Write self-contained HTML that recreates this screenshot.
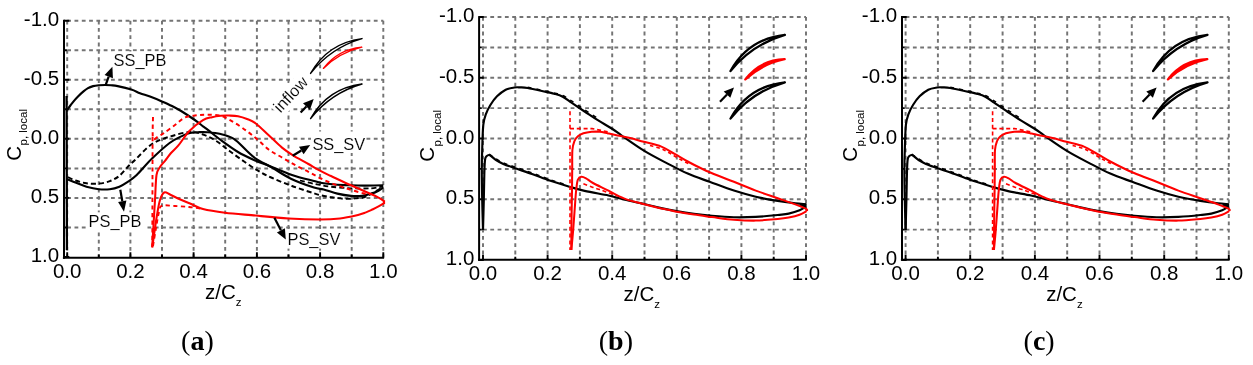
<!DOCTYPE html>
<html lang="en">
<head>
<meta charset="utf-8">
<title>Cp local distributions</title>
<style>
html,body{margin:0;padding:0;background:#fff;}
body{width:1253px;height:365px;overflow:hidden;}
svg{display:block;}
svg text{font-family:"Liberation Sans",sans-serif;fill:#000;}
</style>
</head>
<body>
<svg width="1253" height="365" viewBox="0 0 1253 365">
<rect x="0" y="0" width="1253" height="365" fill="#fff"/>
<path d="M67.2,20.7V257.0M98.8,20.7V257.0M130.4,20.7V257.0M162.0,20.7V257.0M193.6,20.7V257.0M225.2,20.7V257.0M256.9,20.7V257.0M288.5,20.7V257.0M320.1,20.7V257.0M351.7,20.7V257.0M383.3,20.7V257.0M67.2,20.7H383.3M67.2,50.2H383.3M67.2,79.8H383.3M67.2,109.3H383.3M67.2,138.8H383.3M67.2,168.4H383.3M67.2,197.9H383.3M67.2,227.5H383.3" stroke="#747474" stroke-width="1.95" stroke-dasharray="3.8 3.5" fill="none"/>
<path d="M64.0,19.8V258.8" stroke="#000" stroke-width="2.0" fill="none"/>
<path d="M62.9,257.8H384.1" stroke="#000" stroke-width="2.1" fill="none"/>
<path d="M67.2,257.8v-5.6M98.8,257.8v-3.2M130.4,257.8v-5.6M162.0,257.8v-3.2M193.6,257.8v-5.6M225.2,257.8v-3.2M256.9,257.8v-5.6M288.5,257.8v-3.2M320.1,257.8v-5.6M351.7,257.8v-3.2M383.3,257.8v-5.6M64.0,20.7h5.3M64.0,50.2h2.9M64.0,79.8h5.3M64.0,109.3h2.9M64.0,138.8h5.3M64.0,168.4h2.9M64.0,197.9h5.3M64.0,227.5h2.9M64.0,257.0h5.3" stroke="#000" stroke-width="1.9" fill="none"/>
<g fill="none" stroke-linejoin="round" stroke-linecap="butt">
<path d="M66.6,96 L66.9,250" stroke="#000" stroke-width="2.3"/>
<path d="M67.0,110.4 C67.5,109.7 68.9,107.5 70.0,106.0 C71.1,104.5 72.3,103.0 73.6,101.4 C74.9,99.8 76.3,98.2 78.0,96.5 C79.7,94.8 82.1,92.6 83.8,91.2 C85.5,89.8 86.5,89.1 88.0,88.2 C89.5,87.3 91.3,86.6 93.1,86.1 C94.9,85.6 97.0,85.4 99.0,85.2 C101.0,85.0 103.0,85.0 105.0,85.0 C107.0,85.0 108.9,85.1 111.0,85.3 C113.1,85.5 114.3,85.4 117.7,86.1 C121.1,86.8 127.6,88.3 131.3,89.5 C135.0,90.7 136.9,92.0 140.0,93.2 C143.1,94.4 146.3,95.2 150.0,96.6 C153.7,98.0 158.2,99.8 161.9,101.4 C165.6,103.0 168.8,104.4 172.0,106.0 C175.2,107.6 177.3,108.7 181.1,111.0 C184.9,113.3 191.2,117.5 194.8,120.0 C198.5,122.5 200.7,124.6 203.0,126.3 C205.3,128.0 205.6,128.1 208.5,130.4 C211.4,132.7 215.8,136.4 220.7,140.0 C225.6,143.6 232.2,148.5 238.0,152.0 C243.8,155.5 250.5,158.4 255.8,160.8 C261.1,163.2 264.0,163.8 270.0,166.2 C276.0,168.6 284.7,172.5 292.0,175.0 C299.3,177.5 308.6,179.6 313.9,181.0 C319.2,182.4 319.8,182.7 323.7,183.3 C327.6,183.9 332.8,184.4 337.4,184.7 C341.9,185.0 346.4,185.2 351.0,185.3 C355.6,185.5 359.4,185.6 364.8,185.6 C370.2,185.6 380.2,185.4 383.3,185.3" stroke="#000" stroke-width="2.15"/>
<path d="M67.3,179.2 C68.7,179.8 72.3,181.3 75.5,182.6 C78.7,183.8 82.6,185.6 86.5,186.7 C90.4,187.8 94.9,188.8 98.8,189.2 C102.7,189.6 106.4,189.6 109.8,189.2 C113.2,188.8 116.4,187.9 119.4,186.7 C122.4,185.5 124.7,183.8 127.6,181.9 C130.5,180.0 132.6,178.9 136.7,175.0 C140.8,171.1 146.5,163.9 152.0,158.6 C157.5,153.3 164.5,146.8 169.6,143.0 C174.7,139.2 179.4,137.3 182.8,135.6 C186.2,133.9 187.5,133.6 190.0,133.0 C192.5,132.4 195.1,132.3 198.0,132.2 C200.9,132.1 203.7,131.9 207.5,132.2 C211.3,132.5 216.3,132.9 220.7,134.0 C225.1,135.1 229.5,136.1 233.9,138.9 C238.3,141.7 243.3,147.7 247.0,151.0 C250.7,154.3 251.4,155.7 255.8,158.6 C260.2,161.5 267.3,164.9 273.3,168.4 C279.3,171.9 285.2,176.1 292.0,179.3 C298.8,182.5 308.6,185.9 313.9,187.6 C319.2,189.3 319.8,188.5 323.7,189.5 C327.6,190.5 332.8,192.5 337.4,193.6 C341.9,194.7 346.9,195.5 351.0,195.9 C355.1,196.3 358.6,196.3 362.0,195.9 C365.4,195.5 368.9,194.4 371.6,193.6 C374.4,192.8 376.6,191.8 378.5,190.8 C380.4,189.8 382.5,188.0 383.3,187.4" stroke="#000" stroke-width="2.15"/>
<path d="M68.0,177.1 C69.2,177.7 72.4,179.5 75.5,180.5 C78.6,181.5 82.6,182.8 86.5,183.3 C90.4,183.8 94.9,183.9 98.8,183.6 C102.7,183.2 106.4,182.5 109.8,181.2 C113.2,179.9 116.2,178.4 119.4,175.8 C122.6,173.2 126.4,168.1 129.0,165.5 C131.6,162.9 131.2,163.6 135.0,160.0 C138.8,156.4 146.2,147.9 152.0,144.0 C157.8,140.1 163.4,138.7 169.6,136.7 C175.8,134.7 183.8,132.4 189.4,132.0 C195.0,131.6 198.5,133.0 203.0,134.5 C207.5,136.0 211.9,138.2 216.3,141.0 C220.7,143.8 224.8,147.5 229.5,151.0 C234.2,154.5 240.1,158.7 244.8,162.0 C249.6,165.3 253.8,168.2 258.0,170.7 C262.2,173.2 264.3,174.4 270.0,177.0 C275.7,179.6 284.7,183.3 292.0,186.0 C299.3,188.7 309.1,191.8 313.9,193.3 C318.7,194.9 318.0,194.6 321.0,195.3 C324.0,196.0 328.0,196.7 331.9,197.3 C335.8,197.9 340.3,198.6 344.2,198.8 C348.1,199.0 351.8,198.7 355.2,198.4 C358.6,198.1 361.8,197.9 364.8,197.0 C367.8,196.1 369.9,194.6 373.0,192.9 C376.1,191.2 381.6,187.7 383.3,186.7" stroke="#000" stroke-width="1.95" stroke-dasharray="5 3"/>
<path d="M300.0,180.5 C302.5,181.1 310.0,183.0 315.0,184.0 C320.0,185.0 324.0,185.9 330.0,186.6 C336.0,187.3 344.2,188.0 351.0,188.3 C357.8,188.6 365.7,188.6 371.0,188.3 C376.3,188.0 381.0,186.6 383.0,186.3" stroke="#000" stroke-width="1.8" stroke-dasharray="5 3"/>
<path d="M152.2,247.4 C152.4,243.7 153.0,232.9 153.5,225.0 C154.0,217.1 154.5,208.3 155.0,200.0 C155.5,191.7 155.7,180.5 156.5,175.0 C157.3,169.5 158.6,169.4 160.0,167.0 C161.4,164.6 163.2,163.1 165.0,160.8 C166.8,158.5 168.8,155.6 171.0,153.0 C173.2,150.4 175.3,149.1 178.4,145.4 C181.5,141.7 185.3,135.2 189.4,131.0 C193.5,126.8 199.2,122.5 203.0,120.2 C206.8,117.9 209.1,117.9 212.0,117.2 C214.9,116.5 217.9,116.1 220.7,115.8 C223.5,115.5 226.1,115.5 229.0,115.6 C231.9,115.7 235.0,115.7 238.0,116.3 C241.0,116.9 244.0,117.8 247.0,119.0 C250.0,120.2 252.1,120.7 255.8,123.5 C259.5,126.3 264.6,131.6 269.0,135.6 C273.4,139.6 278.0,144.3 282.0,147.6 C286.0,150.9 288.6,152.6 293.0,155.3 C297.4,158.0 303.9,161.4 308.4,164.0 C312.9,166.6 316.3,168.7 320.0,170.7 C323.7,172.7 325.3,173.4 330.5,175.8 C335.7,178.2 344.1,182.2 351.0,185.3 C357.9,188.4 366.9,192.1 371.6,194.2 C376.3,196.3 376.9,196.8 379.0,197.9 C381.1,199.0 383.1,200.5 383.9,201.0" stroke="#f00" stroke-width="2.05"/>
<path d="M152.2,247.4 C152.5,245.3 153.2,240.4 154.0,235.0 C154.8,229.6 156.0,220.8 157.0,215.0 C158.0,209.2 158.8,203.8 160.0,200.0 C161.2,196.2 162.5,193.4 164.2,192.5 C165.9,191.6 167.7,193.5 170.0,194.5 C172.3,195.5 174.7,197.0 178.0,198.5 C181.3,200.0 185.8,201.8 190.0,203.5 C194.2,205.2 197.2,207.5 203.0,209.0 C208.8,210.5 216.2,211.6 225.0,212.7 C233.8,213.8 245.2,214.6 255.8,215.6 C266.4,216.6 278.0,217.8 288.7,218.4 C299.4,219.1 311.4,219.5 320.0,219.5 C328.6,219.5 333.7,219.2 340.0,218.5 C346.3,217.8 353.7,216.0 358.0,215.0 C362.3,214.0 363.5,213.3 366.0,212.4 C368.5,211.5 370.8,210.3 373.0,209.3 C375.2,208.3 377.2,207.2 379.0,206.2 C380.8,205.2 383.1,203.7 383.9,203.2" stroke="#f00" stroke-width="2.05"/>
<path d="M384,200.2V204" stroke="#f00" stroke-width="2.2"/>
<path d="M153.0,117.0 C153.0,120.5 152.2,134.7 153.0,138.0 C153.8,141.3 156.2,137.4 158.0,136.6 C159.8,135.8 161.2,134.9 164.0,133.0 C166.8,131.1 171.5,127.6 175.0,125.0 C178.5,122.4 181.5,119.0 185.2,117.4 C188.9,115.8 193.3,115.7 197.0,115.3 C200.7,114.9 203.6,114.7 207.5,114.8 C211.4,114.9 216.3,114.5 220.7,115.8 C225.1,117.1 229.5,119.8 233.9,122.4 C238.3,125.0 243.0,128.3 247.0,131.2 C251.0,134.1 254.3,136.9 258.0,140.0 C261.7,143.1 265.0,146.9 269.0,149.8 C273.0,152.7 277.6,154.9 282.0,157.5 C286.4,160.1 290.9,162.8 295.3,165.2 C299.7,167.6 304.1,169.6 308.4,171.8 C312.7,174.0 316.6,176.4 321.0,178.5 C325.4,180.6 330.1,182.7 334.7,184.4 C339.3,186.2 343.6,187.5 348.4,189.0 C353.2,190.5 359.5,192.4 363.4,193.3 C367.3,194.2 370.2,194.0 371.6,194.2" stroke="#f00" stroke-width="1.95" stroke-dasharray="4.2 3.4"/>
<path d="M152.6,137 L152.3,246" stroke="#f00" stroke-width="1.9" stroke-dasharray="4.2 3.4"/>
<path d="M153.0,246.0 C153.5,243.0 155.0,233.7 156.0,228.0 C157.0,222.3 158.0,215.7 159.0,212.0 C160.0,208.3 159.3,206.7 162.0,205.7 C164.7,204.7 170.5,205.8 175.0,206.0 C179.5,206.2 184.8,206.6 189.0,207.0 C193.2,207.4 198.2,208.2 200.0,208.5" stroke="#f00" stroke-width="1.9" stroke-dasharray="4.2 3.4"/>
</g>
<g fill="#fff">
<rect x="112.5" y="51.5" width="56" height="18.5"/>
<rect x="87.6" y="212.3" width="57.4" height="19"/>
<rect x="311" y="131.5" width="55" height="21.5"/>
<rect x="286.6" y="229.8" width="54.4" height="18.8"/>
<rect transform="translate(280.5,113.5) rotate(-47)" x="-2" y="-14.5" width="48" height="19"/>
</g>
<path d="M105.8,84.7L108.7,76.6" stroke="#000" stroke-width="2.2" fill="none"/>
<path d="M112.4,66.8L112.9,78.2L104.6,75.1Z" fill="#000"/>
<path d="M120.3,189.8L122.3,201.3" stroke="#000" stroke-width="2.2" fill="none"/>
<path d="M124.0,211.7L118.1,202.0L126.4,200.6Z" fill="#000"/>
<path d="M292.7,155.8L301.3,150.5" stroke="#000" stroke-width="2.2" fill="none"/>
<path d="M310.2,144.9L303.6,154.2L299.0,146.7Z" fill="#000"/>
<path d="M274.4,217.8L280.9,230.3" stroke="#000" stroke-width="2.2" fill="none"/>
<path d="M285.8,239.6L276.9,232.4L284.9,228.2Z" fill="#000"/>
<path d="M300.6,112.6L306.4,106.6" stroke="#000" stroke-width="2.2" fill="none"/>
<path d="M313.7,99.0L309.9,109.9L303.0,103.2Z" fill="#000"/>
<g font-size="16.4" fill="#000" stroke="#fff" stroke-width="0.12">
<text x="113.6" y="65.6">SS_PB</text>
<text x="88.6" y="227.3">PS_PB</text>
<text x="312.4" y="149.7">SS_SV</text>
<text x="287.5" y="244.8">PS_SV</text>
<text transform="translate(280.5,113.5) rotate(-47)">inflow</text>
</g>
<path d="M310.6,73.4Q327.6,43.2 362.0,38.6Q330.7,47.7 310.6,73.4Z" fill="#fff" stroke="#000" stroke-width="1.45" stroke-linejoin="round"/>
<path d="M310.6,118.6Q327.6,88.4 362.0,84.0Q330.7,93.0 310.6,118.6Z" fill="#fff" stroke="#000" stroke-width="1.45" stroke-linejoin="round"/>
<path d="M323.4,68.4Q338.0,49.5 361.8,47.2Q339.7,52.5 323.4,68.4Z" fill="#fff" stroke="#f00" stroke-width="1.35" stroke-linejoin="round"/>
<text x="67.2" y="277.8" text-anchor="middle" font-size="20.5">0.0</text>
<text x="130.4" y="277.8" text-anchor="middle" font-size="20.5">0.2</text>
<text x="193.6" y="277.8" text-anchor="middle" font-size="20.5">0.4</text>
<text x="256.9" y="277.8" text-anchor="middle" font-size="20.5">0.6</text>
<text x="320.1" y="277.8" text-anchor="middle" font-size="20.5">0.8</text>
<text x="383.3" y="277.8" text-anchor="middle" font-size="20.5">1.0</text>
<text x="59.2" y="25.8" text-anchor="end" font-size="20.5">-1.0</text>
<text x="59.2" y="84.9" text-anchor="end" font-size="20.5">-0.5</text>
<text x="59.2" y="143.9" text-anchor="end" font-size="20.5">0.0</text>
<text x="59.2" y="203.0" text-anchor="end" font-size="20.5">0.5</text>
<text x="59.2" y="262.1" text-anchor="end" font-size="20.5">1.0</text>
<text x="223.3" y="299.3" text-anchor="middle" font-size="20.5">z/C<tspan font-size="11.5" dy="6.5">z</tspan></text>
<text transform="translate(20.5,160.8) rotate(-90)" font-size="20.5">C<tspan font-size="11.5" dy="6.8" dx="0.5">p, local</tspan></text>
<path d="M483.0,17.0V260.0M515.3,17.0V260.0M547.6,17.0V260.0M579.9,17.0V260.0M612.2,17.0V260.0M644.5,17.0V260.0M676.8,17.0V260.0M709.1,17.0V260.0M741.4,17.0V260.0M773.7,17.0V260.0M806.0,17.0V260.0M483.0,17.0H806.0M483.0,47.4H806.0M483.0,77.8H806.0M483.0,108.1H806.0M483.0,138.5H806.0M483.0,168.9H806.0M483.0,199.2H806.0M483.0,229.6H806.0" stroke="#747474" stroke-width="1.95" stroke-dasharray="3.8 3.5" fill="none"/>
<path d="M479.1,16.1V260.8" stroke="#000" stroke-width="2.0" fill="none"/>
<path d="M478.0,259.8H806.8" stroke="#000" stroke-width="2.1" fill="none"/>
<path d="M483.0,259.8v-5.0M515.3,259.8v-3.0M547.6,259.8v-5.0M579.9,259.8v-3.0M612.2,259.8v-5.0M644.5,259.8v-3.0M676.8,259.8v-5.0M709.1,259.8v-3.0M741.4,259.8v-5.0M773.7,259.8v-3.0M806.0,259.8v-5.0M479.1,17.0h4.7M479.1,47.4h2.7M479.1,77.8h4.7M479.1,108.1h2.7M479.1,138.5h4.7M479.1,168.9h2.7M479.1,199.2h4.7M479.1,229.6h2.7M479.1,260.0h4.7" stroke="#000" stroke-width="1.9" fill="none"/>
<g fill="none" stroke-linejoin="round">
<path d="M483.0,230.0 C482.9,225.0 482.4,210.0 482.2,200.0 C482.0,190.0 481.8,178.3 481.8,170.0 C481.8,161.7 481.9,157.5 482.2,150.0 C482.4,142.5 482.7,130.8 483.3,124.8 C483.9,118.8 484.8,117.2 486.0,113.9 C487.2,110.6 488.6,107.9 490.4,105.0 C492.2,102.1 494.4,98.8 497.0,96.3 C499.6,93.8 502.8,91.2 505.7,89.7 C508.6,88.2 512.1,87.9 514.5,87.5 C516.9,87.1 517.8,87.3 520.0,87.4 C522.2,87.5 524.1,87.4 527.6,88.0 C531.1,88.6 536.4,89.8 540.8,90.8 C545.2,91.8 550.4,92.7 554.0,93.7 C557.6,94.7 559.8,95.2 562.7,96.7 C565.6,98.2 567.9,100.1 571.5,102.6 C575.1,105.1 580.2,108.6 584.6,111.5 C589.0,114.4 593.1,117.3 597.8,120.2 C602.4,123.1 608.5,126.4 612.5,129.0 C616.5,131.6 616.8,132.2 622.0,135.8 C627.2,139.4 636.6,146.1 643.9,150.6 C651.2,155.1 658.5,158.8 665.8,162.6 C673.1,166.4 680.4,170.4 687.7,173.6 C695.0,176.8 701.9,179.0 709.6,181.8 C717.3,184.6 726.2,188.1 733.9,190.6 C741.6,193.1 748.5,195.0 755.8,196.7 C763.1,198.4 771.1,199.8 777.7,200.9 C784.3,202.0 790.5,202.8 795.3,203.3 C800.0,203.9 804.4,204.0 806.2,204.2" stroke="#000" stroke-width="2.15"/>
<path d="M483.0,230.0 C483.1,225.0 483.6,209.2 483.8,200.0 C484.0,190.8 484.1,181.7 484.3,175.0 C484.5,168.3 484.6,163.1 485.0,160.0 C485.4,156.9 485.7,157.0 486.5,156.2 C487.3,155.4 488.2,154.6 489.8,155.2 C491.4,155.8 493.8,158.6 496.0,160.0 C498.2,161.4 500.2,162.6 503.3,163.9 C506.4,165.2 509.7,166.3 514.5,168.0 C519.3,169.7 526.1,171.9 532.0,174.0 C537.9,176.1 543.8,178.6 549.6,180.6 C555.4,182.6 561.2,184.3 567.0,186.0 C572.8,187.7 577.7,189.3 584.6,190.9 C591.5,192.5 602.0,194.1 608.5,195.5 C615.0,196.9 618.4,198.2 623.9,199.5 C629.4,200.8 635.5,202.1 641.4,203.4 C647.2,204.8 653.1,206.3 659.0,207.6 C664.9,208.9 670.7,210.1 676.5,211.1 C682.3,212.1 688.1,213.0 694.0,213.8 C699.9,214.6 705.4,215.2 712.0,215.8 C718.6,216.4 726.6,217.1 733.9,217.3 C741.2,217.5 748.5,217.3 755.8,216.9 C763.1,216.5 772.2,215.6 777.7,215.0 C783.2,214.4 785.1,214.4 788.7,213.6 C792.4,212.8 796.7,211.5 799.6,210.3 C802.5,209.1 804.9,207.1 806.0,206.5" stroke="#000" stroke-width="2.15"/>
<path d="M800,205.4 H806.6" stroke="#000" stroke-width="3.6"/>
<path d="M489.0,154.3 C490.2,155.1 493.6,157.6 496.0,159.0 C498.4,160.4 500.2,161.6 503.3,162.9 C506.4,164.2 509.7,165.3 514.5,167.0 C519.3,168.7 526.1,170.9 532.0,173.0 C537.9,175.1 543.8,177.6 549.6,179.6 C555.4,181.6 564.1,184.2 567.0,185.1" stroke="#000" stroke-width="1.7" stroke-dasharray="4 4.5"/>
<path d="M527.6,87.2 C529.8,87.7 536.4,89.0 540.8,90.0 C545.2,91.0 550.4,92.0 554.0,92.9 C557.6,93.8 559.8,94.1 562.7,95.4 C565.6,96.7 567.9,98.5 571.5,100.9 C575.1,103.3 580.2,106.8 584.6,109.7 C589.0,112.6 595.6,117.0 597.8,118.4" stroke="#000" stroke-width="1.5" stroke-dasharray="4 5"/>
<path d="M571.3,250.0 C571.3,244.2 571.5,225.0 571.6,215.0 C571.7,205.0 571.9,197.5 572.0,190.0 C572.1,182.5 572.1,176.7 572.2,170.0 C572.3,163.3 572.0,154.8 572.4,150.0 C572.8,145.2 573.6,143.3 574.5,141.0 C575.4,138.7 576.4,137.6 577.9,136.3 C579.4,135.0 581.1,134.1 583.4,133.3 C585.7,132.6 588.9,132.1 591.6,131.8 C594.3,131.6 597.1,131.5 599.8,131.8 C602.5,132.1 605.0,132.8 608.0,133.4 C611.0,134.0 613.9,134.6 617.6,135.4 C621.3,136.2 625.6,136.9 630.0,138.0 C634.4,139.1 638.7,140.4 643.9,141.8 C649.1,143.2 656.3,144.6 661.4,146.6 C666.5,148.6 670.2,151.4 674.6,153.9 C679.0,156.4 683.0,158.9 687.7,161.5 C692.4,164.1 697.9,166.8 703.0,169.2 C708.1,171.6 713.2,173.7 718.4,175.8 C723.5,177.9 727.7,179.3 733.9,181.8 C740.1,184.3 748.5,187.9 755.8,190.6 C763.1,193.3 771.1,195.9 777.7,198.2 C784.3,200.5 790.5,202.6 795.3,204.4 C800.0,206.2 804.3,207.7 806.2,208.8 C808.1,209.9 806.5,210.8 806.6,211.2" stroke="#f00" stroke-width="2.05"/>
<path d="M571.3,250.0 C571.6,247.0 572.4,239.5 573.0,232.0 C573.6,224.5 574.5,212.0 575.0,205.0 C575.5,198.0 575.7,194.2 576.2,190.0 C576.7,185.8 577.0,181.9 577.9,179.7 C578.8,177.5 579.9,176.9 581.3,176.7 C582.6,176.5 584.0,177.2 586.0,178.3 C588.0,179.4 589.2,180.9 593.0,183.0 C596.8,185.1 603.4,188.1 608.5,190.7 C613.6,193.3 618.4,196.2 623.9,198.4 C629.4,200.6 635.5,202.0 641.4,203.6 C647.2,205.2 653.1,206.6 659.0,207.9 C664.9,209.2 670.7,210.6 676.5,211.7 C682.3,212.8 688.1,213.7 694.0,214.6 C699.9,215.5 705.4,216.2 712.0,217.1 C718.6,217.9 726.6,219.1 733.9,219.7 C741.2,220.3 748.5,220.7 755.8,220.6 C763.1,220.5 772.2,219.5 777.7,219.0 C783.2,218.5 785.1,218.2 788.7,217.5 C792.4,216.8 796.6,215.8 799.6,214.7 C802.6,213.6 805.4,211.8 806.6,211.2" stroke="#f00" stroke-width="2.05"/>
<path d="M570.0,111.2 V250" stroke="#f00" stroke-width="1.6" stroke-dasharray="4 2.8"/>
<path d="M570.0,128.6 H592.0 L608.0,131.8" stroke="#f00" stroke-width="1.6" stroke-dasharray="4 2.8"/>
<path d="M583.4,183.8 C585.0,184.4 590.3,186.4 593.0,187.4 C595.7,188.4 597.2,188.7 599.8,189.6 C602.4,190.5 605.5,191.8 608.5,192.9 C611.5,194.0 616.4,195.5 618.0,196.0" stroke="#f00" stroke-width="1.6" stroke-dasharray="4 2.8"/>
<path d="M650.0,145.5 C651.9,146.1 658.1,147.5 661.4,148.8 C664.7,150.1 666.9,151.6 670.0,153.3 C673.1,155.1 676.7,157.5 680.0,159.3 C683.3,161.1 688.3,163.5 690.0,164.3" stroke="#f00" stroke-width="1.6" stroke-dasharray="3.5 3"/>
</g>
<path d="M730.5,71.1Q748.3,38.9 784.9,34.9Q752.0,44.4 730.5,71.1Z" fill="#fff" stroke="#000" stroke-width="2.3" stroke-linejoin="round"/>
<path d="M730.5,118.5Q748.3,86.3 784.9,82.3Q752.0,91.8 730.5,118.5Z" fill="#fff" stroke="#000" stroke-width="2.3" stroke-linejoin="round"/>
<path d="M745.3,79.4Q760.2,59.9 784.7,59.2Q762.2,63.8 745.3,79.4Z" fill="#f00" stroke="#f00" stroke-width="2.3" stroke-linejoin="round"/>
<path d="M720.0,101.8L727.0,94.6" stroke="#000" stroke-width="2.2" fill="none"/>
<path d="M734.0,87.4L730.3,97.8L723.7,91.4Z" fill="#000"/>
<text x="483.0" y="279.8" text-anchor="middle" font-size="20.5">0.0</text>
<text x="547.6" y="279.8" text-anchor="middle" font-size="20.5">0.2</text>
<text x="612.2" y="279.8" text-anchor="middle" font-size="20.5">0.4</text>
<text x="676.8" y="279.8" text-anchor="middle" font-size="20.5">0.6</text>
<text x="741.4" y="279.8" text-anchor="middle" font-size="20.5">0.8</text>
<text x="806.0" y="279.8" text-anchor="middle" font-size="20.5">1.0</text>
<text x="474.3" y="22.1" text-anchor="end" font-size="20.5">-1.0</text>
<text x="474.3" y="82.8" text-anchor="end" font-size="20.5">-0.5</text>
<text x="474.3" y="143.6" text-anchor="end" font-size="20.5">0.0</text>
<text x="474.3" y="204.3" text-anchor="end" font-size="20.5">0.5</text>
<text x="474.3" y="265.1" text-anchor="end" font-size="20.5">1.0</text>
<text x="641.7" y="301.3" text-anchor="middle" font-size="20.5">z/C<tspan font-size="11.5" dy="6.5">z</tspan></text>
<text transform="translate(433.8,161.8) rotate(-90)" font-size="20.5">C<tspan font-size="11.5" dy="6.8" dx="0.5">p, local</tspan></text>
<path d="M905.6,17.0V260.0M937.9,17.0V260.0M970.2,17.0V260.0M1002.6,17.0V260.0M1034.9,17.0V260.0M1067.2,17.0V260.0M1099.5,17.0V260.0M1131.8,17.0V260.0M1164.2,17.0V260.0M1196.5,17.0V260.0M1228.8,17.0V260.0M905.6,17.0H1228.8M905.6,47.4H1228.8M905.6,77.8H1228.8M905.6,108.1H1228.8M905.6,138.5H1228.8M905.6,168.9H1228.8M905.6,199.2H1228.8M905.6,229.6H1228.8" stroke="#747474" stroke-width="1.95" stroke-dasharray="3.8 3.5" fill="none"/>
<path d="M902.0,16.1V260.8" stroke="#000" stroke-width="2.0" fill="none"/>
<path d="M900.9,259.8H1229.6" stroke="#000" stroke-width="2.1" fill="none"/>
<path d="M905.6,259.8v-5.0M937.9,259.8v-3.0M970.2,259.8v-5.0M1002.6,259.8v-3.0M1034.9,259.8v-5.0M1067.2,259.8v-3.0M1099.5,259.8v-5.0M1131.8,259.8v-3.0M1164.2,259.8v-5.0M1196.5,259.8v-3.0M1228.8,259.8v-5.0M902.0,17.0h4.7M902.0,47.4h2.7M902.0,77.8h4.7M902.0,108.1h2.7M902.0,138.5h4.7M902.0,168.9h2.7M902.0,199.2h4.7M902.0,229.6h2.7M902.0,260.0h4.7" stroke="#000" stroke-width="1.9" fill="none"/>
<g fill="none" stroke-linejoin="round">
<path d="M905.6,230.0 C905.5,225.0 905.0,210.0 904.8,200.0 C904.6,190.0 904.4,178.3 904.4,170.0 C904.4,161.7 904.5,157.5 904.8,150.0 C905.0,142.5 905.3,130.8 905.9,124.8 C906.5,118.8 907.4,117.2 908.6,113.9 C909.8,110.6 911.2,107.9 913.0,105.0 C914.8,102.1 917.1,98.8 919.6,96.3 C922.1,93.8 925.4,91.2 928.3,89.7 C931.2,88.2 934.7,87.9 937.1,87.5 C939.5,87.1 940.4,87.3 942.6,87.4 C944.8,87.5 946.7,87.4 950.2,88.0 C953.7,88.6 959.0,89.8 963.4,90.8 C967.8,91.8 973.0,92.7 976.6,93.7 C980.2,94.7 982.4,95.2 985.3,96.7 C988.2,98.2 990.5,100.1 994.1,102.6 C997.8,105.1 1002.8,108.6 1007.2,111.5 C1011.6,114.4 1015.8,117.3 1020.4,120.2 C1025.0,123.1 1031.1,126.4 1035.1,129.0 C1039.1,131.6 1039.4,132.2 1044.6,135.8 C1049.8,139.4 1059.2,146.1 1066.5,150.6 C1073.8,155.1 1081.1,158.8 1088.4,162.6 C1095.7,166.4 1103.0,170.4 1110.3,173.6 C1117.6,176.8 1124.5,179.0 1132.2,181.8 C1139.9,184.6 1148.8,188.1 1156.5,190.6 C1164.2,193.1 1171.1,195.0 1178.4,196.7 C1185.7,198.4 1193.7,199.8 1200.3,200.9 C1206.9,202.0 1213.2,202.8 1217.9,203.3 C1222.7,203.9 1227.0,204.0 1228.8,204.2" stroke="#000" stroke-width="2.15"/>
<path d="M905.6,230.0 C905.7,225.0 906.2,209.2 906.4,200.0 C906.6,190.8 906.7,181.7 906.9,175.0 C907.1,168.3 907.2,163.1 907.6,160.0 C908.0,156.9 908.3,157.0 909.1,156.2 C909.9,155.4 910.8,154.6 912.4,155.2 C914.0,155.8 916.4,158.6 918.6,160.0 C920.9,161.4 922.8,162.6 925.9,163.9 C929.0,165.2 932.3,166.3 937.1,168.0 C941.9,169.7 948.8,171.9 954.6,174.0 C960.5,176.1 966.4,178.6 972.2,180.6 C978.0,182.6 983.8,184.3 989.6,186.0 C995.4,187.7 1000.3,189.3 1007.2,190.9 C1014.1,192.5 1024.5,194.1 1031.1,195.5 C1037.6,196.9 1041.0,198.2 1046.5,199.5 C1052.0,200.8 1058.2,202.1 1064.0,203.4 C1069.8,204.8 1075.8,206.3 1081.6,207.6 C1087.4,208.9 1093.3,210.1 1099.1,211.1 C1104.9,212.1 1110.7,213.0 1116.6,213.8 C1122.5,214.6 1127.9,215.2 1134.6,215.8 C1141.2,216.4 1149.2,217.1 1156.5,217.3 C1163.8,217.5 1171.1,217.3 1178.4,216.9 C1185.7,216.5 1194.8,215.6 1200.3,215.0 C1205.8,214.4 1207.7,214.4 1211.3,213.6 C1215.0,212.8 1219.3,211.5 1222.2,210.3 C1225.1,209.1 1227.5,207.1 1228.6,206.5" stroke="#000" stroke-width="2.15"/>
<path d="M1222.6,205.4 H1229.2" stroke="#000" stroke-width="3.6"/>
<path d="M911.6,154.3 C912.8,155.1 916.2,157.6 918.6,159.0 C921.0,160.4 922.8,161.6 925.9,162.9 C929.0,164.2 932.3,165.3 937.1,167.0 C941.9,168.7 948.8,170.9 954.6,173.0 C960.5,175.1 966.4,177.6 972.2,179.6 C978.0,181.6 986.7,184.2 989.6,185.1" stroke="#000" stroke-width="1.7" stroke-dasharray="4 4.5"/>
<path d="M950.2,87.2 C952.4,87.7 959.0,89.0 963.4,90.0 C967.8,91.0 973.0,92.0 976.6,92.9 C980.2,93.8 982.4,94.1 985.3,95.4 C988.2,96.7 990.5,98.5 994.1,100.9 C997.8,103.3 1002.8,106.8 1007.2,109.7 C1011.6,112.6 1018.2,117.0 1020.4,118.4" stroke="#000" stroke-width="1.5" stroke-dasharray="4 5"/>
<path d="M993.9,250.0 C994.0,244.2 994.1,225.0 994.2,215.0 C994.3,205.0 994.5,197.5 994.6,190.0 C994.7,182.5 994.7,176.7 994.8,170.0 C994.9,163.3 994.6,154.8 995.0,150.0 C995.4,145.2 996.2,143.3 997.1,141.0 C998.0,138.7 999.0,137.6 1000.5,136.3 C1002.0,135.0 1003.7,134.1 1006.0,133.3 C1008.3,132.6 1011.5,132.1 1014.2,131.8 C1016.9,131.6 1019.7,131.5 1022.4,131.8 C1025.1,132.1 1027.6,132.8 1030.6,133.4 C1033.6,134.0 1036.5,134.6 1040.2,135.4 C1043.9,136.2 1048.2,136.9 1052.6,138.0 C1057.0,139.1 1061.3,140.4 1066.5,141.8 C1071.7,143.2 1078.9,144.6 1084.0,146.6 C1089.1,148.6 1092.8,151.4 1097.2,153.9 C1101.6,156.4 1105.6,158.9 1110.3,161.5 C1115.0,164.1 1120.5,166.8 1125.6,169.2 C1130.7,171.6 1135.8,173.7 1141.0,175.8 C1146.2,177.9 1150.3,179.3 1156.5,181.8 C1162.7,184.3 1171.1,187.9 1178.4,190.6 C1185.7,193.3 1193.7,195.9 1200.3,198.2 C1206.9,200.5 1213.2,202.6 1217.9,204.4 C1222.7,206.2 1226.9,207.7 1228.8,208.8 C1230.7,209.9 1229.1,210.8 1229.2,211.2" stroke="#f00" stroke-width="2.05"/>
<path d="M993.9,250.0 C994.2,247.0 995.0,239.5 995.6,232.0 C996.2,224.5 997.1,212.0 997.6,205.0 C998.1,198.0 998.3,194.2 998.8,190.0 C999.3,185.8 999.6,181.9 1000.5,179.7 C1001.4,177.5 1002.5,176.9 1003.9,176.7 C1005.2,176.5 1006.6,177.2 1008.6,178.3 C1010.6,179.4 1011.9,180.9 1015.6,183.0 C1019.4,185.1 1025.9,188.1 1031.1,190.7 C1036.2,193.3 1041.0,196.2 1046.5,198.4 C1052.0,200.6 1058.2,202.0 1064.0,203.6 C1069.8,205.2 1075.8,206.6 1081.6,207.9 C1087.4,209.2 1093.3,210.6 1099.1,211.7 C1104.9,212.8 1110.7,213.7 1116.6,214.6 C1122.5,215.5 1127.9,216.2 1134.6,217.1 C1141.2,217.9 1149.2,219.1 1156.5,219.7 C1163.8,220.3 1171.1,220.7 1178.4,220.6 C1185.7,220.5 1194.8,219.5 1200.3,219.0 C1205.8,218.5 1207.7,218.2 1211.3,217.5 C1215.0,216.8 1219.2,215.8 1222.2,214.7 C1225.2,213.6 1228.0,211.8 1229.2,211.2" stroke="#f00" stroke-width="2.05"/>
<path d="M992.6,111.2 V250" stroke="#f00" stroke-width="1.6" stroke-dasharray="4 2.8"/>
<path d="M992.6,128.6 H1014.6 L1030.6,131.8" stroke="#f00" stroke-width="1.6" stroke-dasharray="4 2.8"/>
<path d="M1006.0,183.8 C1007.6,184.4 1012.9,186.4 1015.6,187.4 C1018.3,188.4 1019.8,188.7 1022.4,189.6 C1025.0,190.5 1028.1,191.8 1031.1,192.9 C1034.1,194.0 1039.0,195.5 1040.6,196.0" stroke="#f00" stroke-width="1.6" stroke-dasharray="4 2.8"/>
<path d="M1072.6,145.5 C1074.5,146.1 1080.7,147.5 1084.0,148.8 C1087.3,150.1 1089.5,151.6 1092.6,153.3 C1095.7,155.1 1099.3,157.5 1102.6,159.3 C1105.9,161.1 1110.9,163.5 1112.6,164.3" stroke="#f00" stroke-width="1.6" stroke-dasharray="3.5 3"/>
</g>
<path d="M1153.1,71.1Q1170.9,38.9 1207.5,34.9Q1174.6,44.4 1153.1,71.1Z" fill="#fff" stroke="#000" stroke-width="2.3" stroke-linejoin="round"/>
<path d="M1153.1,118.5Q1170.9,86.3 1207.5,82.3Q1174.6,91.8 1153.1,118.5Z" fill="#fff" stroke="#000" stroke-width="2.3" stroke-linejoin="round"/>
<path d="M1167.9,79.4Q1182.8,59.9 1207.3,59.2Q1184.8,63.8 1167.9,79.4Z" fill="#f00" stroke="#f00" stroke-width="2.3" stroke-linejoin="round"/>
<path d="M1142.6,101.8L1149.6,94.6" stroke="#000" stroke-width="2.2" fill="none"/>
<path d="M1156.6,87.4L1152.9,97.8L1146.3,91.4Z" fill="#000"/>
<text x="905.6" y="279.8" text-anchor="middle" font-size="20.5">0.0</text>
<text x="970.2" y="279.8" text-anchor="middle" font-size="20.5">0.2</text>
<text x="1034.9" y="279.8" text-anchor="middle" font-size="20.5">0.4</text>
<text x="1099.5" y="279.8" text-anchor="middle" font-size="20.5">0.6</text>
<text x="1164.2" y="279.8" text-anchor="middle" font-size="20.5">0.8</text>
<text x="1228.8" y="279.8" text-anchor="middle" font-size="20.5">1.0</text>
<text x="897.2" y="22.1" text-anchor="end" font-size="20.5">-1.0</text>
<text x="897.2" y="82.8" text-anchor="end" font-size="20.5">-0.5</text>
<text x="897.2" y="143.6" text-anchor="end" font-size="20.5">0.0</text>
<text x="897.2" y="204.3" text-anchor="end" font-size="20.5">0.5</text>
<text x="897.2" y="265.1" text-anchor="end" font-size="20.5">1.0</text>
<text x="1064.4" y="301.3" text-anchor="middle" font-size="20.5">z/C<tspan font-size="11.5" dy="6.5">z</tspan></text>
<text transform="translate(856.7,161.8) rotate(-90)" font-size="20.5">C<tspan font-size="11.5" dy="6.8" dx="0.5">p, local</tspan></text>
<text x="197.4" y="350.2" text-anchor="middle" style="font-family:'Liberation Serif',serif" font-size="28">(<tspan font-weight="bold">a</tspan>)</text>
<text x="615.9" y="350.2" text-anchor="middle" style="font-family:'Liberation Serif',serif" font-size="28">(<tspan font-weight="bold">b</tspan>)</text>
<text x="1039.1" y="350.2" text-anchor="middle" style="font-family:'Liberation Serif',serif" font-size="28">(<tspan font-weight="bold">c</tspan>)</text>
</svg>
</body>
</html>
